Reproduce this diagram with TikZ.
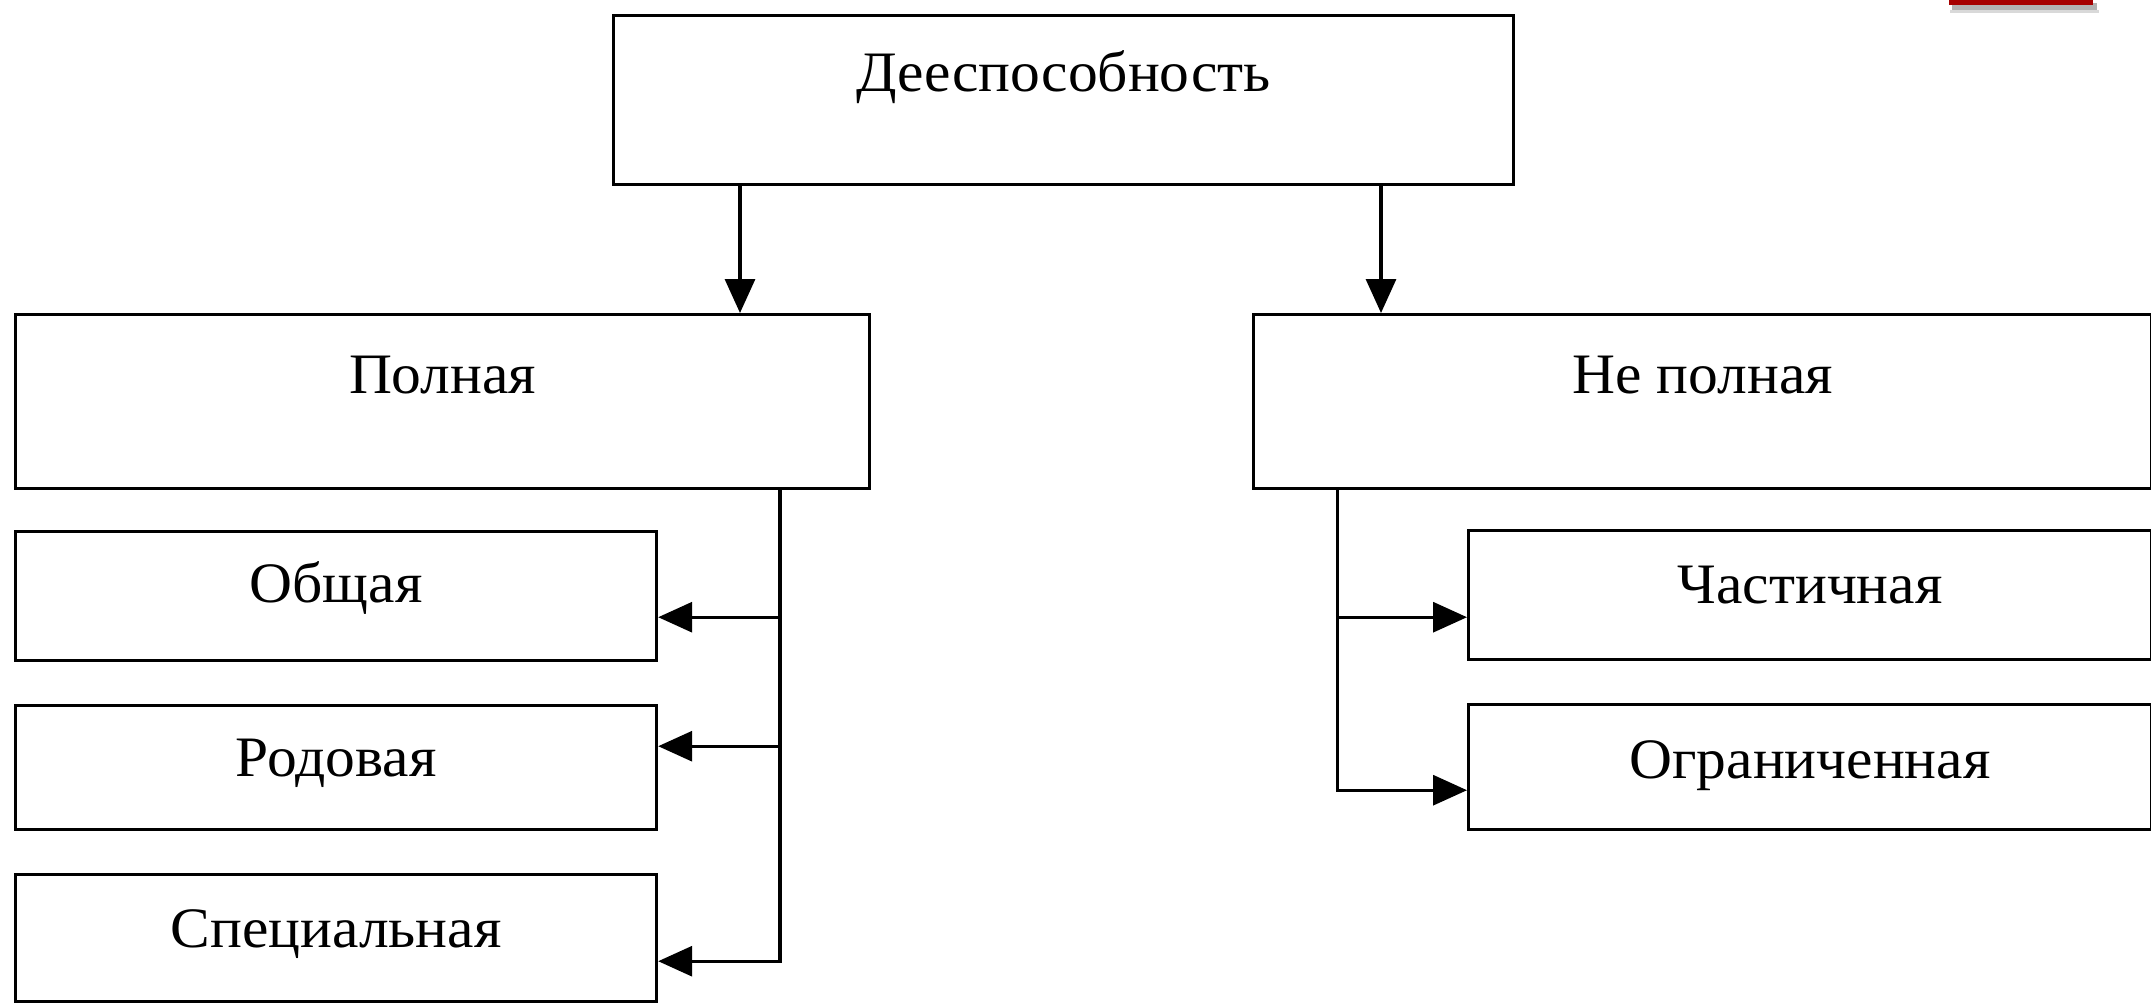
\documentclass[tikz,border=0pt]{standalone}
\usepackage{fontspec}
\setmainfont{Liberation Serif}[FakeStretch=1.04]
\usetikzlibrary{arrows.meta,calc}
\begin{document}
\begin{tikzpicture}[x=0.5pt,y=-0.5pt,
  box/.style={draw=black,line width=1.6pt,rectangle,inner sep=0pt,anchor=north west,
    font=\fontsize{28.6pt}{34pt}\selectfont},
  link/.style={line width=1.6pt},
  arr/.style={line width=1.6pt,-{Triangle[length=17pt,width=15pt]}}]
\useasboundingbox (0,0) rectangle (2151,1003);
\fill[white] (0,0) rectangle (2151,1003);
% decorative red bar with shadow (top right)
\fill[black!30] (1952,3) rectangle (2097,10);
\fill[black!15] (1950,10) rectangle (2099,13);
\fill[red!65!black] (1949,0) rectangle (2093,5);
% boxes
\node[box,minimum width=450pt,text height=38pt,text depth=46.5pt] (top) at (612,14) {Дееспособность};
\node[box,minimum width=427pt,text height=39.5pt,text depth=47.5pt] (full) at (14,313) {Полная};
\node[box,minimum width=449pt,text height=39.5pt,text depth=47.5pt] (notfull) at (1252,313) {Не полная};
\node[box,minimum width=320.5pt,text height=35.5pt,text depth=29pt] (general) at (14,530) {Общая};
\node[box,minimum width=320.5pt,text height=35.5pt,text depth=26.5pt] (generic) at (14,704) {Родовая};
\node[box,minimum width=320.5pt,text height=36.5pt,text depth=27pt] (special) at (14,873) {Специальная};
\node[box,minimum width=341.5pt,text height=36.5pt,text depth=28pt] (partial) at (1467,529) {Частичная};
\node[box,minimum width=341.5pt,text height=37pt,text depth=25.5pt] (limited) at (1467,703) {Ограниченная};
% connectors from the top box
\coordinate (a1) at ([xshift=64pt]top.south west);
\coordinate (a2) at ([xshift=384.5pt]top.south west);
\draw[arr] (a1) -- (a1 |- full.north);
\draw[arr] (a2) -- (a2 |- notfull.north);
% left branch
\coordinate (b0) at ([xshift=383pt]full.south west);
\coordinate (p1) at ([yshift=22.5pt]general.south east);
\coordinate (p2) at ([yshift=42.5pt]generic.south east);
\coordinate (p3) at ([yshift=21pt]special.south east);
\draw[arr] (b0) |- (p3);
\draw[arr] (b0 |- p1) -- (p1);
\draw[arr] (b0 |- p2) -- (p2);
% right branch
\coordinate (c0) at ([xshift=42.75pt]notfull.south west);
\coordinate (q1) at ([yshift=22pt]partial.south west);
\coordinate (q2) at ([yshift=20.5pt]limited.south west);
\draw[arr] (c0) |- (q2);
\draw[arr] (c0 |- q1) -- (q1);
\end{tikzpicture}
\end{document}
